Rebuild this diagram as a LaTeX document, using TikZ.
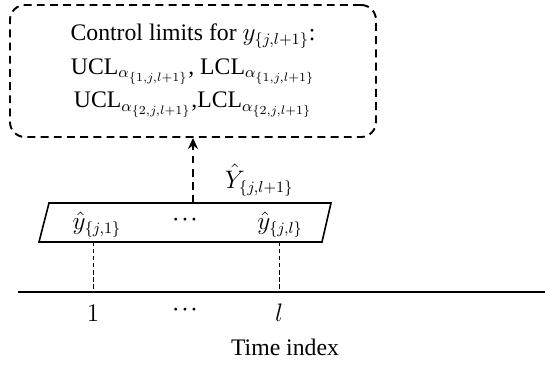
\documentclass[tikz,border=0pt]{standalone}
\usepackage{fontspec}
\setmainfont{Liberation Serif}
\usetikzlibrary{arrows.meta,positioning}

\newcommand{\middots}{\textperiodcentered\kern0.05em\textperiodcentered\kern0.05em\textperiodcentered}

\begin{document}
\begin{tikzpicture}[
limbox/.style={draw, rounded corners=8.5pt, line width=1.1pt, dash pattern=on 4.5pt off 3pt,
minimum width=7.32cm, minimum height=2.64cm, align=center, font=\fontsize{13.5}{19}\selectfont},
lbl/.style={font=\fontsize{13.5}{16}\selectfont},
arrow/.style={-{Stealth[length=2.2mm,width=2mm]}, line width=1.1pt, dash pattern=on 4.5pt off 3pt},
guide/.style={dash pattern=on 2.5pt off 1.5pt, line width=0.5pt}
]
\useasboundingbox (0,0) rectangle (10.9,7.3);

\node[limbox] (lim) at (3.86,5.88)
{Control limits for $y_{\{j,l+1\}}$:\\
UCL$_{\alpha_{\{1,j,l+1\}}}$, LCL$_{\alpha_{\{1,j,l+1\}}}$\\
UCL$_{\alpha_{\{2,j,l+1\}}}$,LCL$_{\alpha_{\{2,j,l+1\}}}$};

% slanted box of fitted values
\coordinate (pbl) at (0.78,2.46);
\coordinate (pbr) at (6.44,2.46);
\coordinate (ptr) at (6.62,3.24);
\coordinate (ptl) at (0.98,3.24);
\draw[line width=0.9pt] (pbl) -- (pbr) -- (ptr) -- (ptl) -- cycle;
\node[lbl] (y1) at (1.94,2.80) {$\hat{y}_{\{j,1\}}$};
\node[lbl] (ydots) at (3.70,2.85) {\middots};
\node[lbl] (yl) at (5.60,2.80) {$\hat{y}_{\{j,l\}}$};

\draw[arrow] (lim.south |- ptl) -- node[lbl, right=0.5cm, pos=0.35] (yhat) {$\hat{Y}_{\{j,l+1\}}$} (lim.south);

% time axis
\coordinate (axl) at (0.36,1.46);
\coordinate (axr) at (10.9,1.46);
\draw[line width=1.1pt] (axl) -- (axr);

\node[lbl] (t1) at (1.86,1.04) {$1$};
\node[lbl] (tdots) at (3.70,1.04) {\middots};
\node[lbl] (tl) at (5.58,1.04) {$l$};
\node[lbl] (time) at (5.70,0.36) {Time index};

\draw[guide] (pbl -| t1) -- (axl -| t1);
\draw[guide] (pbl -| tl) -- (axl -| tl);

\end{tikzpicture}
\end{document}
